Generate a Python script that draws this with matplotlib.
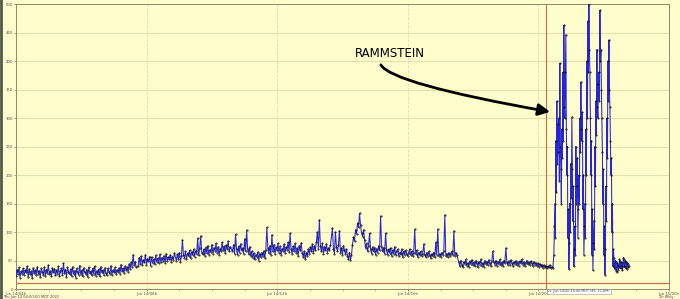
import matplotlib.pyplot as plt
import numpy as np

# y values, grouped in time segments (hours of the day)
seg1_hours = (4.00, 7.68)
seg1 = [22, 34, 26, 38, 20, 31, 27, 36, 24, 33, 29, 40, 21, 35, 26, 31, 19, 37, 28, 33,
        24, 39, 27, 32, 21, 36, 30, 25, 38, 23, 34, 28, 42, 26, 31, 22, 37, 29, 35, 24,
        33, 27, 40, 22, 31, 36, 25, 45, 28, 34, 21, 38, 30, 26, 35, 23, 39, 27, 32, 20,
        36, 29, 25, 41, 27, 33, 22, 37, 30, 26, 34, 21, 38, 28, 31, 24, 36, 27, 40, 23,
        32, 26, 35, 22, 39, 29, 33, 25, 37, 28, 24, 36, 30, 27, 41, 25, 33, 29, 38, 26,
        34, 30, 37, 27, 43, 31, 36, 28, 40, 33, 38, 30, 44, 35, 47, 39, 60, 42, 48, 38]
seg2_hours = (7.74, 8.85)
seg2 = [40, 55, 44, 58, 42, 51, 47, 60, 43, 53, 49, 57, 41, 56, 46, 52, 44, 59, 48, 54,
        45, 61, 47, 55, 50, 58, 46, 62, 49, 56, 52, 60, 48, 57, 51, 63]
seg3_hours = (8.91, 10.56)
seg3 = [50, 61, 53, 64, 48, 58, 86, 60, 55, 66, 52, 63, 58, 68, 54, 65, 60, 70, 57, 67,
        62, 89, 59, 72, 93, 64, 61, 70, 58, 73, 63, 76, 60, 69, 65, 78, 62, 72, 67, 80,
        64, 74, 60, 71, 66, 82, 68, 75, 63, 77, 70, 84, 66, 74]
seg4_hours = (10.63, 13.63)
seg4 = [66, 78, 62, 96, 70, 60, 75, 64, 79, 68, 72, 62, 88, 66, 103, 70, 61, 74, 58, 66,
        55, 63, 52, 60, 57, 65, 50, 62, 56, 64, 58, 67, 54, 69, 108, 72, 63, 76, 60, 95,
        66, 78, 62, 73, 68, 80, 64, 75, 60, 71, 67, 79, 63, 74, 69, 82, 65, 98, 70, 62,
        75, 66, 80, 64, 72, 58, 76, 68, 81, 63, 56, 66, 52, 64, 58, 70, 62, 74, 66, 79,
        63, 75, 68, 82, 100, 71, 121, 76, 66, 80, 62, 74, 68, 79, 64, 72, 69, 77]
seg5_hours = (13.69, 17.50)
seg5 = [107, 70, 62, 100, 74, 66, 78, 102, 64, 72, 60, 76, 68, 62, 70, 58, 52, 64, 51, 60,
        78, 91, 84, 104, 96, 116, 108, 133, 112, 99, 92, 104, 86, 72, 80, 66, 76, 98, 70, 62,
        74, 66, 72, 60, 70, 64, 76, 68, 128, 74, 66, 72, 62, 98, 68, 60, 70, 64, 72, 58,
        68, 62, 74, 60, 66, 70, 58, 64, 61, 70, 56, 66, 60, 68, 62, 58, 64, 70, 60, 66,
        58, 64, 105, 62, 68, 56, 64, 60, 66, 58, 62, 79, 60, 56, 64, 58, 66, 60, 54, 62,
        58, 64, 56, 82, 60, 105, 58, 62, 56, 64, 60, 66, 130, 58, 62, 56, 64, 58, 62, 66,
        60, 102, 58, 64, 60]
seg6_hours = (17.56, 20.44)
seg6 = [47, 40, 50, 43, 38, 48, 44, 52, 41, 46, 39, 49, 44, 51, 42, 47, 40, 50, 45, 38,
        48, 43, 52, 41, 46, 39, 50, 44, 48, 42, 51, 45, 40, 49, 66, 47, 43, 50, 41, 48,
        44, 52, 42, 47, 40, 50, 45, 72, 48, 42, 49, 43, 51, 46, 40, 48, 44, 50, 42, 47,
        41, 49, 45, 52, 43, 48, 40, 46, 50, 44, 47, 42, 49, 45, 40, 48, 43, 46, 41, 45,
        39, 44, 40, 43, 37, 42, 38, 41, 36, 40, 38, 42, 36, 39, 37]
seg7_hours = (20.47, 22.77)
seg7 = [60, 110, 150, 90, 260, 170, 330, 220, 240, 290, 300, 190, 396, 250, 210, 150,
        280, 230, 380, 260, 463, 320, 300, 380, 446, 280, 200, 250, 90, 140, 35, 80,
        150, 100, 220, 160, 302, 210, 120, 180, 40, 70, 110, 60, 250, 150, 180, 230,
        90, 140, 200, 150, 300, 240, 363, 280, 260, 310, 140, 200, 60, 110, 150, 90,
        280, 200, 400, 300, 470, 380, 500, 420, 380, 300, 200, 260, 60, 140, 33, 80,
        120, 70, 250, 180, 330, 270, 420, 320, 300, 360, 380, 330, 489, 400, 420, 350,
        300, 240, 150, 210, 60, 110, 25, 70, 180, 120, 300, 230, 400, 330, 437, 350,
        320, 260, 200, 230, 100, 150, 40, 70, 55, 38, 35, 50, 48, 32, 30, 45,
        42, 34, 38, 52, 50, 40, 36, 47, 45, 33, 40, 55, 52, 41, 38, 50,
        48, 36, 35, 46, 44, 38, 40]

segments = [(seg1_hours, seg1), (seg2_hours, seg2), (seg3_hours, seg3), (seg4_hours, seg4),
            (seg5_hours, seg5), (seg6_hours, seg6), (seg7_hours, seg7)]

tick_hours = [4, 8, 12, 16, 20, 24]
tick_labels = ["Jun 14/04h", "Jun 14/08h", "Jun 14/12h", "Jun 14/16h", "Jun 14/20h", "Jun 15/00h"]
threshold = 10
cursor_hour = 20.23

t = np.concatenate([np.linspace(a, b, len(v)) for (a, b), v in segments])
y = np.concatenate([np.array(v, float) for _, v in segments])

bg = "#fffdcb"
fig = plt.figure(figsize=(6.8, 2.99), dpi=100, facecolor=bg)
ax = fig.add_axes([0.0235, 0.0334, 0.9605, 0.953])
ax.set_facecolor(bg)

ax.plot(t, y, color="#2626d6", lw=0.75, zorder=3)
ax.plot(t, y, ls="none", marker=".", ms=0.9, color="#111111", zorder=4)

ax.axhline(threshold, color="#c8704a", lw=0.9, zorder=2)
ax.axvline(cursor_hour, color="#c8704a", lw=0.8, zorder=2)

ax.set_xlim(4, 24)
ax.set_ylim(0, 500)
ax.set_yticks(np.arange(0, 501, 50))
ax.set_xticks(tick_hours)
ax.set_xticklabels(tick_labels)
ax.set_xticks(np.arange(4, 24, 1), minor=True)
ax.tick_params(axis="both", labelsize=2.8, colors="#555555", length=1.5, width=0.4, pad=0.6)
ax.tick_params(axis="x", which="minor", length=1.2, width=0.4, colors="#999999")
ax.grid(axis="y", color="#e6dfae", lw=0.8)
ax.grid(axis="x", color="#e2dcb8", lw=0.6, ls="--")
for side, sp in ax.spines.items():
    sp.set_color("#8a8a70")
    sp.set_linewidth(0.7)

ax.text(15.45, 414, "RAMMSTEIN", fontsize=8.5, color="black", ha="center", va="center",
        family="DejaVu Sans")
ax.annotate("", xy=(20.44, 310), xytext=(15.15, 398),
            arrowprops=dict(arrowstyle="-|>,head_length=0.7,head_width=0.35", color="black",
                            lw=2, connectionstyle="angle3,angleA=90,angleB=-10"))

fig.text(0.004, 0.0, "Thu Jun 14 04:00:00 MDT 2022", fontsize=2.6, color="#444444", va="bottom")
fig.text(0.99, 0.0, "1h Wkly", fontsize=2.6, color="#444444", ha="right", va="bottom")
fig.text(0.805, 0.022, "Cs: Jun 14/20:14:00 MDT (46, 11.6M)", fontsize=2.4, color="#444466",
         bbox=dict(facecolor="white", edgecolor="#999999", lw=0.4, pad=0.5))
fig.add_artist(plt.Line2D([0.002, 0.002], [0, 1], transform=fig.transFigure,
                          color="#4d5a4a", lw=2))

fig.savefig("out.png", dpi=100, facecolor=bg)
